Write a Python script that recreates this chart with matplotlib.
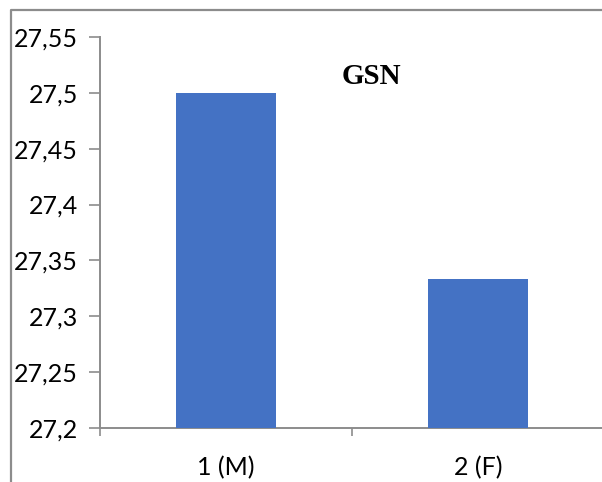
import matplotlib
matplotlib.use("Agg")
import matplotlib.pyplot as plt
from matplotlib.lines import Line2D
from matplotlib.ticker import FixedLocator

categories = ["1 (M)", "2 (F)"]
values = [27.5, 27.333]
y_ticks = [27.2, 27.25, 27.3, 27.35, 27.4, 27.45, 27.5, 27.55]
y_labels = ["27,2", "27,25", "27,3", "27,35", "27,4", "27,45", "27,5", "27,55"]
title = "GSN"

W, H = 602, 482
fig = plt.figure(figsize=(W / 100, H / 100), dpi=100)
fig.patch.set_facecolor("white")

# outer chart frame (left and top edges visible)
frame_col = "#8c8c8c"
fig.add_artist(Line2D([11 / W, 11 / W, 1.0], [0.0, 1 - 10 / H, 1 - 10 / H],
                      transform=fig.transFigure, color=frame_col, lw=1.6))

ax = fig.add_axes([100 / W, 1 - 428 / H, 504 / W, (428 - 37) / H])
x = list(range(len(categories)))
ax.bar(x, values, width=0.4, color="#4472C4", zorder=3)

ax.set_xlim(-0.5, 1.5)
ax.set_ylim(27.2, 27.55)

axis_col = "#8c8c8c"
for s in ["top", "right"]:
    ax.spines[s].set_visible(False)
for s in ["left", "bottom"]:
    ax.spines[s].set_color(axis_col)
    ax.spines[s].set_linewidth(1.4)

ax.yaxis.set_major_locator(FixedLocator(y_ticks))
ax.set_yticklabels(y_labels)
ax.tick_params(axis="y", direction="out", length=8, width=1.2, color=axis_col,
               labelsize=18, pad=8, labelcolor="black")

ax.set_xticks(x)
ax.set_xticklabels(categories)
ax.tick_params(axis="x", which="major", length=0, labelsize=18, pad=20, labelcolor="black")
ax.xaxis.set_minor_locator(FixedLocator([-0.5, 0.5, 1.5]))
ax.tick_params(axis="x", which="minor", direction="out", length=6, width=1.2, color=axis_col)

for lab in ax.get_xticklabels() + ax.get_yticklabels():
    lab.set_fontfamily("Lato")

fig.text(371 / W, 1 - 77 / H, title, ha="center", va="center",
         fontsize=21, fontweight="bold", family="Liberation Serif")

fig.savefig("out.png", dpi=100)
